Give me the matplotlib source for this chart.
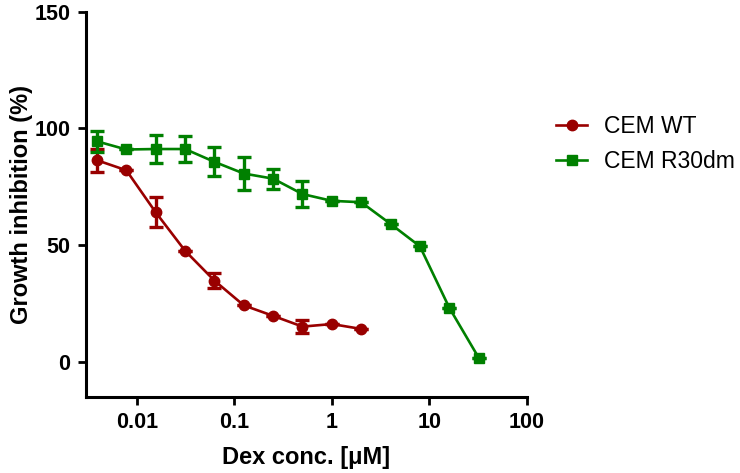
import numpy as np
import matplotlib.pyplot as plt

plt.rcParams['font.family'] = ['Liberation Sans', 'DejaVu Sans']

# Dex concentrations (uM), two-fold dilutions
conc_wt = [0.0039, 0.0078, 0.0156, 0.03125, 0.0625, 0.125, 0.25, 0.5, 1, 2]
conc_r30 = [0.0039, 0.0078, 0.0156, 0.03125, 0.0625, 0.125, 0.25, 0.5, 1, 2,
            4, 8, 16, 32]

wt_mean = [86.4, 82.1, 64.1, 47.6, 34.8, 24.2, 19.7, 15.1, 16.2, 14.1]
wt_err = [5.0, 0.0, 6.5, 0.0, 3.2, 0.0, 0.0, 2.7, 0.0, 0.0]

r30_mean = [94.5, 91.0, 91.2, 91.2, 85.7, 80.7, 78.5, 71.9, 69.0, 68.4,
            59.1, 49.5, 23.2, 1.8]
r30_err = [4.4, 0.0, 5.8, 5.7, 6.2, 7.1, 4.3, 5.6, 0.0, 0.0,
           0.0, 0.0, 0.0, 0.0]

red = '#990000'
green = '#008000'

fig = plt.figure(figsize=(7.4, 4.73), dpi=100)
ax = fig.add_axes([0.116, 0.161, 0.596, 0.814])

ax.errorbar(conc_wt, wt_mean, yerr=wt_err, color=red, marker='o',
            markersize=7.5, linewidth=1.9, elinewidth=2.4, capsize=5,
            capthick=2.4, label='CEM WT')
ax.errorbar(conc_r30, r30_mean, yerr=r30_err, color=green, marker='s',
            markersize=7, linewidth=1.9, elinewidth=2.4, capsize=5,
            capthick=2.4, label='CEM R30dm')

ax.set_xscale('log')
ax.set_xlim(0.003, 100)
ax.set_ylim(-15, 150)
ax.set_xticks([0.01, 0.1, 1, 10, 100])
ax.set_xticklabels(['0.01', '0.1', '1', '10', '100'])
ax.minorticks_off()
ax.set_yticks([0, 50, 100, 150])

for side in ['top', 'right']:
    ax.spines[side].set_visible(False)
for side in ['left', 'bottom']:
    ax.spines[side].set_linewidth(2.2)

ax.tick_params(width=2.0, length=6, labelsize=15.5, pad=5)
for lab in ax.get_xticklabels() + ax.get_yticklabels():
    lab.set_fontweight('bold')

ax.set_xlabel('Dex conc. [\u03bcM]', fontsize=17, fontweight='bold', labelpad=9)
ax.set_ylabel('Growth inhibition (%)', fontsize=17, fontweight='bold', labelpad=1)

handles, labels = ax.get_legend_handles_labels()
handles = [h[0] for h in handles]
ax.legend(handles, labels, loc='upper left', bbox_to_anchor=(1.02, 0.786),
          frameon=False, fontsize=16.5, handlelength=1.35, handletextpad=0.74,
          labelspacing=0.55)

fig.savefig('out.png', dpi=100)
